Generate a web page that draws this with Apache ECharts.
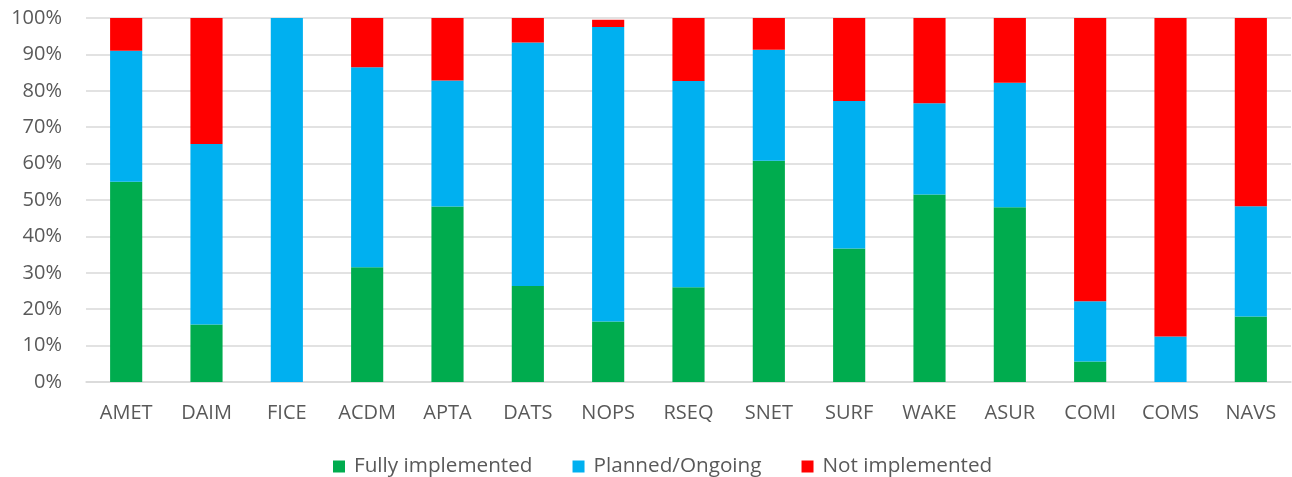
<!DOCTYPE html>
<html>
<head>
<meta charset="utf-8">
<script src="https://cdn.jsdelivr.net/npm/echarts@6/dist/echarts.min.js"></script>
<style>
  html, body { margin: 0; padding: 0; background: #fff; }
  #chart { width: 1292px; height: 477px; }
</style>
</head>
<body>
<div id="chart"></div>
<script>
const categories = ['AMET', 'DAIM', 'FICE', 'ACDM', 'APTA', 'DATS', 'NOPS', 'RSEQ', 'SNET', 'SURF', 'WAKE', 'ASUR', 'COMI', 'COMS', 'NAVS'];
// segment shares in %
const fullyImplemented = [55.0, 15.8, 0, 31.5, 48.2, 26.4, 16.6, 26.0, 60.8, 36.7, 51.5, 48.0, 5.6, 0, 18.0];
const plannedOngoing   = [36.0, 49.6, 100, 55.0, 34.6, 66.9, 80.9, 56.7, 30.5, 40.5, 25.1, 34.2, 16.6, 12.5, 30.3];
const notImplemented   = [9.0, 34.6, 0, 13.5, 17.2, 6.7, 2.0, 17.3, 8.7, 22.8, 23.4, 17.8, 77.8, 87.5, 51.7];

const chart = echarts.init(document.getElementById('chart'));

const font = '"Open Sans", sans-serif';

const mkSeries = (name, data, color) => ({
    name: name,
    type: 'bar',
    stack: 'total',
    data: data,
    barCategoryGap: '60%',
    itemStyle: { color: color },
    emphasis: { disabled: true }
});

const option = {
    animation: false,
    grid: { left: 86, right: 1, top: 18, bottom: 95 },
    legend: {
        top: 451,
        left: 328,
        itemWidth: 12,
        itemHeight: 12,
        itemGap: 40,
        icon: 'rect',
        textStyle: { color: '#595959', fontSize: 20.7, fontFamily: font, padding: [0, 0, 0, 4] },
        data: ['Fully implemented', 'Planned/Ongoing', 'Not implemented']
    },
    xAxis: {
        type: 'category',
        data: categories,
        axisLine: { lineStyle: { color: '#d9d9d9', width: 1.5 } },
        axisTick: { show: false },
        axisLabel: { color: '#595959', fontSize: 20, fontFamily: font, margin: 21 }
    },
    yAxis: {
        type: 'value',
        min: 0,
        max: 100,
        interval: 10,
        axisLine: { show: false },
        axisTick: { show: false },
        splitLine: { lineStyle: { color: '#d9d9d9', width: 1.5 } },
        axisLabel: {
            formatter: '{value}%',
            color: '#595959',
            fontSize: 20,
            fontFamily: font,
            margin: 24
        }
    },
    series: [
        mkSeries('Fully implemented', fullyImplemented, '#00ac4e'),
        mkSeries('Planned/Ongoing', plannedOngoing, '#00b0f0'),
        mkSeries('Not implemented', notImplemented, '#ff0000')
    ]
};

chart.setOption(option);
</script>
</body>
</html>
